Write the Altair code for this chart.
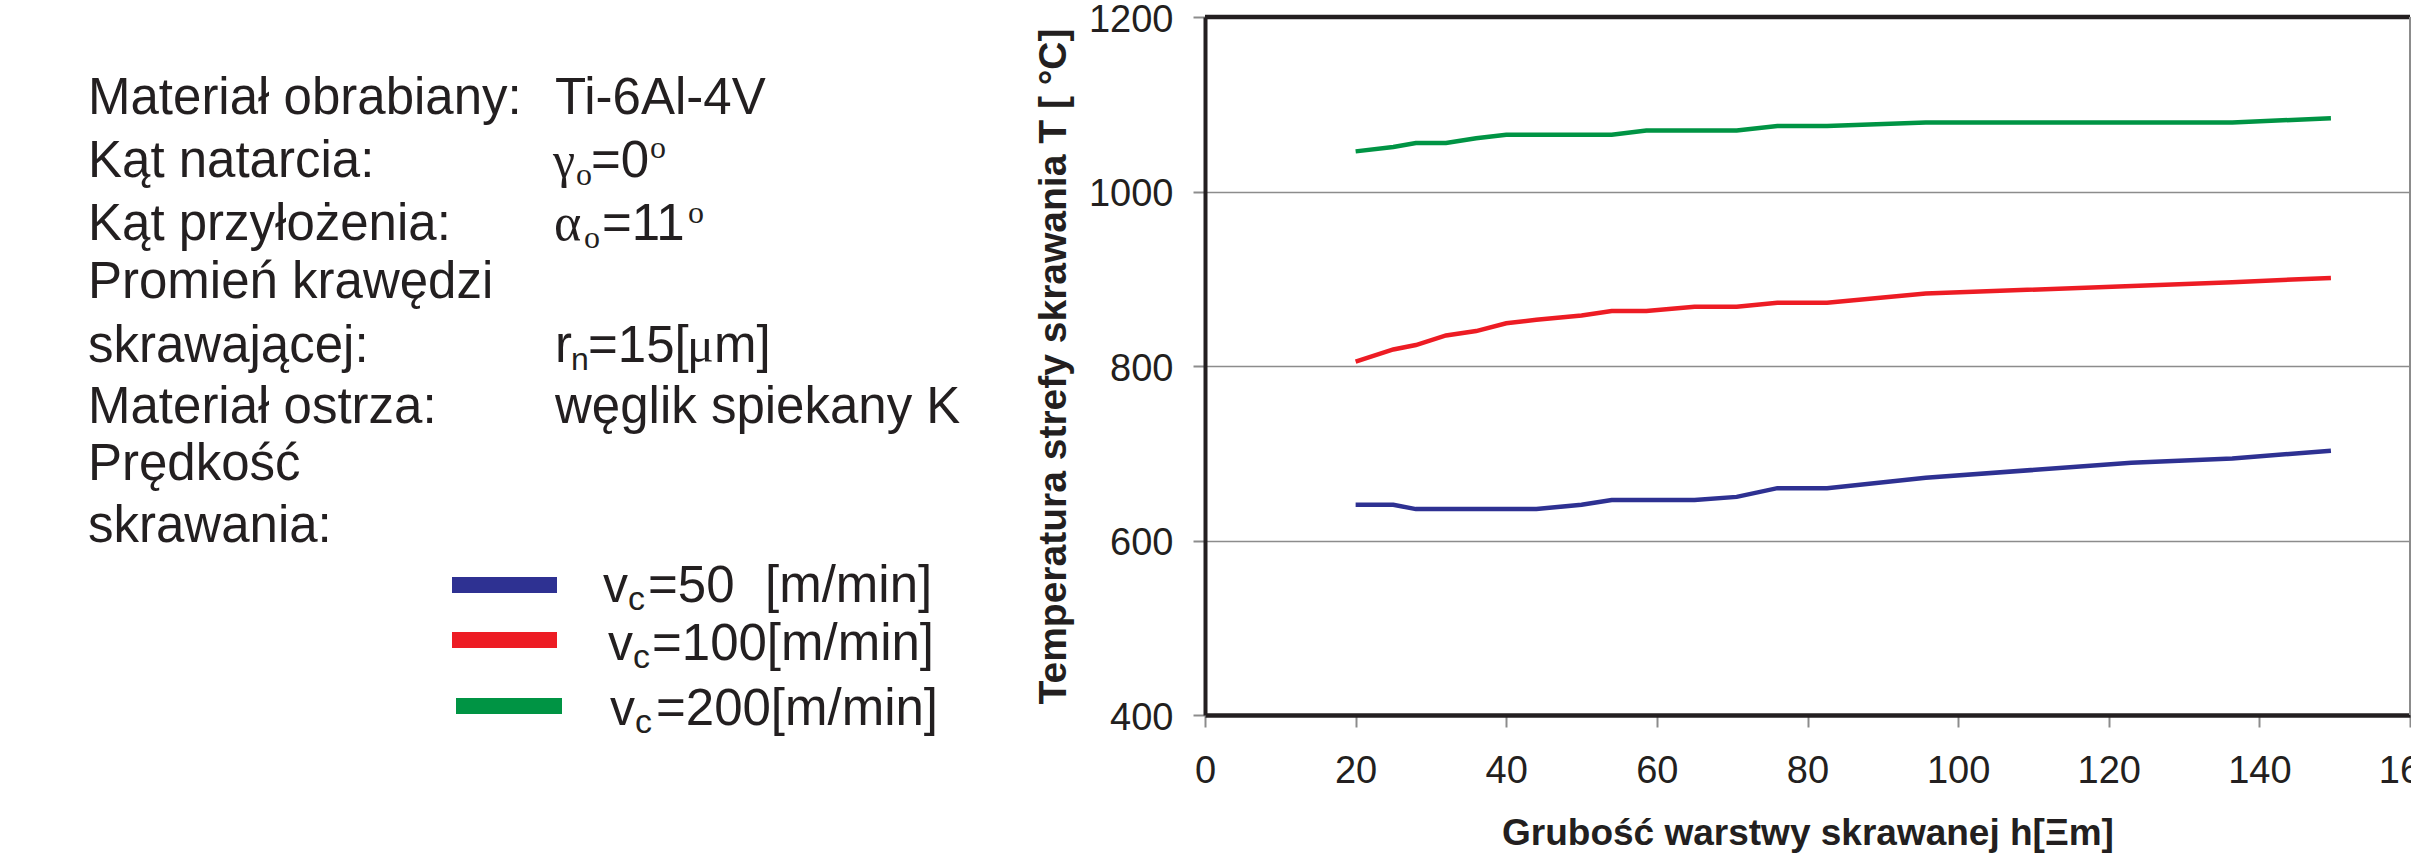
import altair as alt
import pandas as pd

# ---------------- data ----------------
h_blue = [20, 25, 28, 44, 50, 54, 65, 70.6, 76, 82.6, 95.7, 123, 136.4, 149.5]
T_blue = [641, 641, 636, 636, 641, 646.5, 646.5, 650, 660, 660, 672, 689, 694, 703]

h_red = [20, 25, 28, 32, 36, 40, 44, 50, 54, 58.6, 65, 70.6, 76, 82.6, 95.7, 136.4, 149.5]
T_red = [805, 819, 824, 835, 840, 849, 853, 858, 863, 863, 868, 868, 872.5, 872.5, 883, 896, 901]

h_green = [20, 25, 28, 32, 36, 40, 50, 54, 58.6, 70.6, 76, 82.6, 95.7, 136.4, 149.5]
T_green = [1046, 1051, 1055.5, 1055.5, 1061, 1065, 1065, 1065, 1070, 1070, 1075, 1075, 1079, 1079, 1084]

series_names = ["vc=50", "vc=100", "vc=200"]
series_colors = ["#2E3192", "#ED1C24", "#009444"]

x_ticks = [0, 20, 40, 60, 80, 100, 120, 140, 160]
y_ticks = [400, 600, 800, 1000, 1200]

x_title = "Grubość warstwy skrawanej h[Ξm]"
y_title = "Temperatura strefy skrawania T [ °C]"

info_labels = ["Materiał obrabiany:", "Kąt natarcia:", "Kąt przyłożenia:", "Promień krawędzi",
               "skrawającej:", "Materiał ostrza:", "Prędkość", "skrawania:"]

# ---------------- layout ----------------
X0, Y0 = 1205, 17          # plot origin in page pixels
W, H = 1205, 698
INK = "#231F20"
SANS = "Liberation Sans, Arial, Helvetica, sans-serif"
SERIF = "Liberation Serif, Times New Roman, serif"

rows = []
for name, hs, ts in zip(series_names, [h_blue, h_red, h_green], [T_blue, T_red, T_green]):
    for h, t in zip(hs, ts):
        rows.append({"h": h, "T": t, "series": name})
df = pd.DataFrame(rows)

x_scale = alt.Scale(domain=[0, 160], nice=False, zero=False)
y_scale = alt.Scale(domain=[400, 1200], nice=False, zero=False)

lines = alt.Chart(df).mark_line(strokeWidth=4.5).encode(
    x=alt.X("h:Q", scale=x_scale, axis=alt.Axis(
        values=x_ticks, format="d", title=x_title, grid=False,
        domainColor=INK, domainWidth=4.5, tickColor="#8c8c8c", tickWidth=2, tickSize=12,
        labelFont=SANS, labelFontSize=38, labelColor=INK, labelPadding=55,
        labelBaseline="alphabetic", labelFlush=False, labelOverlap=False,
        titleFont=SANS, titleFontSize=37, titleFontWeight="bold", titleColor=INK,
        titleX=W / 2, titleY=129, titleAlign="center", titleBaseline="alphabetic")),
    y=alt.Y("T:Q", scale=y_scale, axis=alt.Axis(
        values=y_ticks, format="d", title=y_title, grid=True, gridColor="#8c8c8c", gridWidth=1.5,
        domainColor=INK, domainWidth=4, tickColor="#8c8c8c", tickWidth=2, tickSize=12,
        labelFont=SANS, labelFontSize=38, labelColor=INK, labelPadding=20,
        labelBaseline="middle", labelOffset=3, labelFlush=False, labelOverlap=False,
        titleFont=SANS, titleFontSize=39, titleFontWeight="bold", titleColor=INK,
        titleX=-152, titleY=349, titleAngle=270, titleAlign="center", titleBaseline="middle")),
    color=alt.Color("series:N", scale=alt.Scale(domain=series_names, range=series_colors), legend=None),
    detail="series:N",
)

top_rule = alt.Chart(alt.Data(values=[{}])).mark_rule(color=INK, strokeWidth=4.5).encode(
    y=alt.datum(1200))
right_rule = alt.Chart(alt.Data(values=[{}])).mark_rule(color="#8c8c8c", strokeWidth=2).encode(
    x=alt.datum(160))


def txt(x, y, s, size, font=SANS, weight="normal"):
    return alt.Chart(alt.Data(values=[{}])).mark_text(
        align="left", baseline="alphabetic", font=font, fontSize=size, fontWeight=weight, color=INK
    ).encode(x=alt.value(x - X0), y=alt.value(y - Y0), text=alt.value(s))


layers = [lines, top_rule, right_rule]

# left info block
baselines = [114, 177, 240, 298, 362, 423, 480, 542]
for lab, b in zip(info_labels, baselines):
    layers.append(txt(88, b, lab, 51))

layers += [
    txt(555, 114, "Ti-6Al-4V", 51),
    # gamma_o = 0 deg
    txt(553, 177, "γ", 50, SERIF),
    txt(576, 185, "o", 32, SERIF),
    txt(591, 177, "=0", 51),
    txt(650, 158, "o", 32, SERIF),
    # alpha_o = 11 deg
    txt(554, 240, "α", 52, SERIF),
    txt(584, 248, "o", 32, SERIF),
    txt(602, 240, "=11", 51),
    txt(688, 223, "o", 32, SERIF),
    # r_n = 15 um
    txt(555, 362, "r", 51),
    txt(571, 370, "n", 32),
    txt(588, 362, "=15[", 51),
    txt(687, 362, "μ", 50, SERIF),
    txt(714, 362, "m]", 51),
    txt(555, 423, "węglik spiekany K", 51),
]

# legend
leg = [
    (452, 557, 585, 603, 602, "=50", 648),
    (452, 557, 640, 608, 660, "=100[m/min]", 652),
    (456, 562, 706, 610, 725, "=200[m/min]", 656),
]
for (xa, xb, ys, vx, vb, rest, rx), col in zip(leg, series_colors):
    layers.append(alt.Chart(alt.Data(values=[{}])).mark_rule(color=col, strokeWidth=16).encode(
        x=alt.value(xa - X0), x2=alt.value(xb - X0), y=alt.value(ys - Y0)))
    layers.append(txt(vx, vb, "v", 50))
    layers.append(txt(vx + 25, vb + 8, "c", 34))
    layers.append(txt(rx, vb, rest, 51))
layers.append(txt(765, 602, "[m/min]", 51))

chart = alt.layer(*layers).properties(
    width=W, height=H,
    padding={"left": X0, "top": Y0, "right": 1, "bottom": 866 - Y0 - H},
    autosize="none", background="white",
).configure_view(stroke=None)

chart.save("out.html", embed_options={"renderer": "svg", "actions": False})
